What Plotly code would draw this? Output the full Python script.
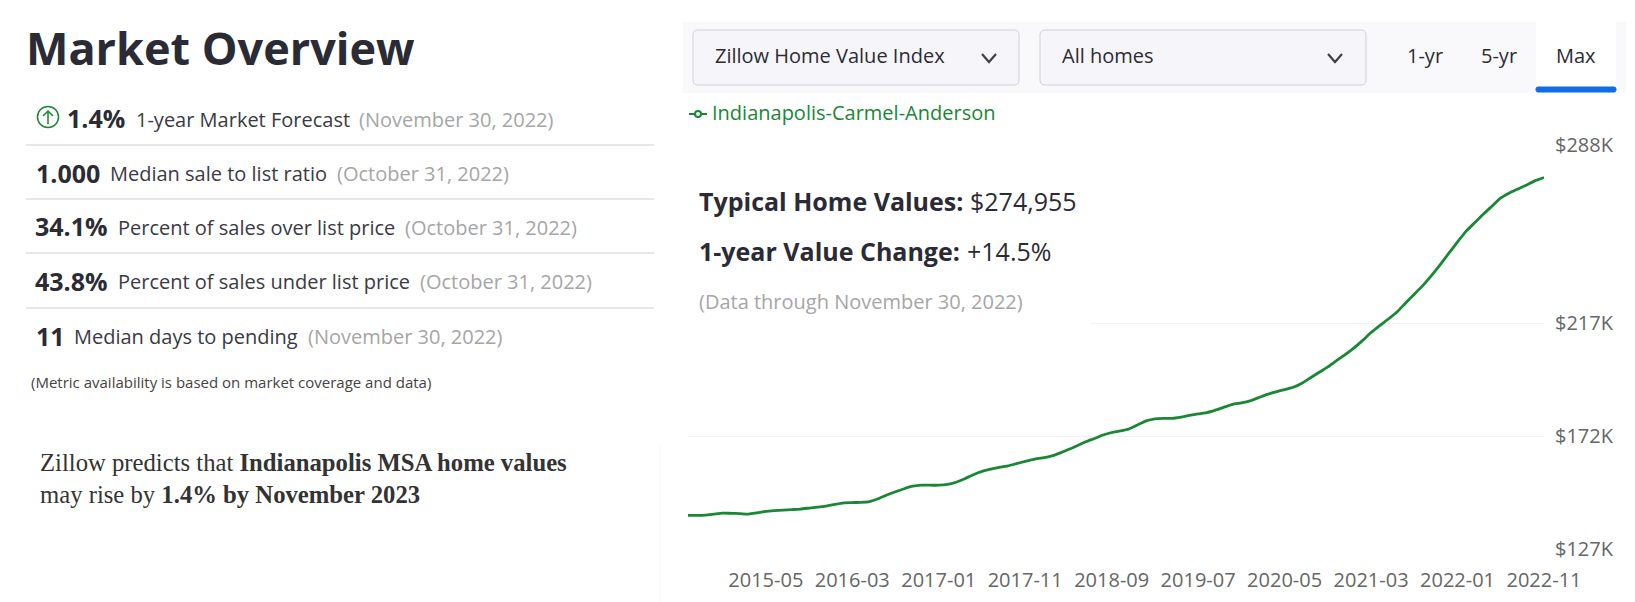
import pandas as pd
import plotly.graph_objects as go

W = 1635
H = 602

# monthly index values in $K
months = pd.date_range("2014-08", periods=100, freq="MS").strftime("%Y-%m").tolist()
home_values = [
    140.4, 140.4, 140.5, 140.9, 141.3, 141.2, 141.1, 140.9, 141.4, 142.0,
    142.3, 142.5, 142.7, 142.9, 143.3, 143.7, 144.1, 144.8, 145.4, 145.5,
    145.6, 145.9, 147.0, 148.5, 149.8, 151.0, 152.0, 152.4, 152.4, 152.4,
    152.7, 153.6, 155.0, 156.6, 157.9, 158.8, 159.5, 160.1, 161.0, 161.9,
    162.7, 163.3, 164.0, 165.2, 166.6, 168.1, 169.7, 171.0, 172.4, 173.4,
    174.0, 174.8, 176.4, 178.0, 178.8, 179.0, 179.0, 179.5, 180.2, 180.8,
    181.3, 182.3, 183.5, 184.6, 185.2, 186.0, 187.3, 188.6, 189.6, 190.5,
    191.4, 193.0, 195.2, 197.4, 199.5, 202.0, 204.4, 207.0, 210.0, 213.2,
    216.0, 218.6, 221.4, 225.0, 228.5, 232.0, 236.0, 240.3, 244.8, 249.3,
    253.6, 257.0, 260.4, 263.6, 266.8, 268.8, 270.4, 272.0, 273.7, 274.955,
]
x_ticks = ["2015-05", "2016-03", "2017-01", "2017-11", "2018-09",
           "2019-07", "2020-05", "2021-03", "2022-01", "2022-11"]
y_ticks = [127, 172, 217, 288]
y_labels = ["$127K", "$172K", "$217K", "$288K"]

metric_values = ["1.4%", "1.000", "34.1%", "43.8%", "11"]
metric_names = ["1-year Market Forecast", "Median sale to list ratio", "Percent of sales over list price",
                "Percent of sales under list price", "Median days to pending"]
metric_dates = ["(November 30, 2022)", "(October 31, 2022)", "(October 31, 2022)",
                "(October 31, 2022)", "(November 30, 2022)"]

DARK = "#2a2b35"
GREY = "#a6a6a6"
GREEN = "#1a8735"
FONT = "Open Sans"


def px(x):
    return x / W


def py(y):
    return 1 - y / H


def text(x, y, s, size, color=DARK, family=FONT, anchor="left"):
    if anchor == "left":
        x = x - 1.5  # annotations sit a bit right of the given x
    return dict(x=px(x), y=py(y), xref="paper", yref="paper", text=s, showarrow=False,
                xanchor=anchor, yanchor="middle", borderpad=0,
                font=dict(size=size, color=color, family=family))


def rect(x0, y0, x1, y1, fill, line=None, layer="below"):
    return dict(type="rect", xref="paper", yref="paper", x0=px(x0), y0=py(y0), x1=px(x1), y1=py(y1),
                fillcolor=fill, line=dict(width=1 if line else 0, color=line or fill), layer=layer)


def hline(x0, x1, y, color, width=1):
    return dict(type="line", xref="paper", yref="paper", x0=px(x0), x1=px(x1), y0=py(y), y1=py(y),
                line=dict(color=color, width=width), layer="below")


def path(points, color, width=2, close=False, fill=None, layer="above"):
    d = "M" + " L".join(f"{px(a):.5f},{py(b):.5f}" for a, b in points) + (" Z" if close else "")
    return dict(type="path", xref="paper", yref="paper", path=d, layer=layer,
                fillcolor=fill, line=dict(color=color, width=width))


def rounded(x0, y0, x1, y1, r, fill, line):
    a, b, c, d = px(x0), py(y0), px(x1), py(y1)
    rx, ry = r / W, r / H
    p = (f"M{a + rx},{b} L{c - rx},{b} Q{c},{b} {c},{b - ry} L{c},{d + ry} Q{c},{d} {c - rx},{d} "
         f"L{a + rx},{d} Q{a},{d} {a},{d + ry} L{a},{b - ry} Q{a},{b} {a + rx},{b} Z")
    return dict(type="path", xref="paper", yref="paper", path=p, fillcolor=fill,
                line=dict(color=line, width=1), layer="below")


fig = go.Figure()
fig.add_trace(go.Scatter(x=months, y=home_values, mode="lines", name="Indianapolis-Carmel-Anderson",
                         line=dict(color=GREEN, width=2.8, shape="spline", smoothing=0.5),
                         hoverinfo="x+y", showlegend=False))

shapes = []
# control bar
shapes.append(rect(683, 22, 1626, 93, "#f9f9fb"))
shapes.append(rounded(693, 30, 1019, 85, 5, "#f6f6fa", "#d1d1d5"))
shapes.append(rounded(1040, 30, 1366, 85, 5, "#f6f6fa", "#d1d1d5"))
shapes.append(rect(1536, 22, 1616, 92, "white"))
shapes.append(rounded(1536, 87, 1616, 92, 2, "#0d6ee6", "#0d6ee6"))
for cx in [989, 1335]:
    shapes.append(path([(cx - 7, 54), (cx, 62), (cx + 7, 54)], "#3f3f4a", 2.2))

# metric rows
for y in [145, 199, 253, 308]:
    shapes.append(hline(26, 654, y, "#cfcfcf"))
shapes.append(dict(type="circle", xref="paper", yref="paper", x0=px(37.5), x1=px(58.5), y0=py(106.5), y1=py(127.5),
                   line=dict(color=GREEN, width=1.5), layer="above"))
shapes.append(path([(48, 124), (48, 111)], GREEN, 1.5))
shapes.append(path([(43, 116), (48, 111), (53, 116)], GREEN, 1.5))

# legend icon
shapes.append(path([(689, 114), (707, 114)], GREEN, 2))
shapes.append(dict(type="circle", xref="paper", yref="paper", x0=px(695), x1=px(701), y0=py(111), y1=py(117),
                   fillcolor="white", line=dict(color=GREEN, width=2), layer="above"))

# white box behind the stats, it hides the grid line there
shapes.append(rect(688, 165, 1090, 328, "white", layer="above"))
# faint divider
shapes.append(dict(type="line", xref="paper", yref="paper", x0=px(660), x1=px(660), y0=py(445), y1=py(602),
                   line=dict(color="#f6f6f6", width=1), layer="below"))

notes = [
    text(26, 47, "<b>Market Overview</b>", 45),
    text(712, 113, "Indianapolis-Carmel-Anderson", 20, GREEN),
    text(715, 56, "Zillow Home Value Index", 20),
    text(1062, 56, "All homes", 20),
    text(1425, 56, "1-yr", 20, anchor="center"),
    text(1499, 56, "5-yr", 20, anchor="center"),
    text(1576, 56, "Max", 20, anchor="center"),
    text(699, 201, "<b>Typical Home Values:</b>", 25),
    text(970, 201, "$274,955", 25),
    text(699, 251, "<b>1-year Value Change:</b>", 25),
    text(967, 251, "+14.5%", 25),
    text(699, 301, "(Data through November 30, 2022)", 20, GREY),
    text(31, 382, "(Metric availability is based on market coverage and data)", 15, "#444444"),
    text(40, 462, "Zillow predicts that <b>Indianapolis MSA home values</b>", 24.7, "#333333", "Liberation Serif"),
    text(40, 494, "may rise by <b>1.4% by November 2023</b>", 24.7, "#333333", "Liberation Serif"),
]

row_y = [118, 172.5, 226.5, 280.5, 336]
value_x = [67.5, 36, 35, 35, 36]
name_x = [136, 110.5, 118.5, 118.5, 74.5]
date_x = [359, 337, 405.5, 420, 308]
for i in range(len(metric_values)):
    notes.append(text(value_x[i], row_y[i], "<b>" + metric_values[i] + "</b>", 25))
    notes.append(text(name_x[i], row_y[i] + 1, metric_names[i], 20, "#3a3a44"))
    notes.append(text(date_x[i], row_y[i] + 1, metric_dates[i], 20, GREY))

fig.update_layout(
    width=W, height=H, autosize=False,
    margin=dict(l=0, r=0, t=0, b=0),
    paper_bgcolor="white", plot_bgcolor="white",
    showlegend=False,
    font=dict(family=FONT, color="#666666", size=19),
    shapes=shapes, annotations=notes,
    xaxis=dict(type="category", categoryorder="array", categoryarray=months, range=[0, 99],
               domain=[px(688), px(1544)], tickmode="array", tickvals=x_ticks, ticktext=x_ticks,
               showgrid=False, zeroline=False, showline=False, ticks="outside", ticklen=13,
               tickcolor="rgba(0,0,0,0)", tickangle=0, automargin=False,
               tickfont=dict(size=20, color="#666666")),
    yaxis=dict(range=[127, 288.3], domain=[py(549), py(144)], side="right", tickmode="array",
               tickvals=y_ticks, ticktext=y_labels, gridcolor="#f3f3f3", gridwidth=1, zeroline=False,
               showline=False, ticks="outside", ticklen=6, tickcolor="rgba(0,0,0,0)", automargin=False,
               tickfont=dict(size=20, color="#666666")),
)

fig.write_html("out.html", config=dict(displayModeBar=False),
               post_script="document.body.style.margin='0';document.body.style.overflow='hidden';")
